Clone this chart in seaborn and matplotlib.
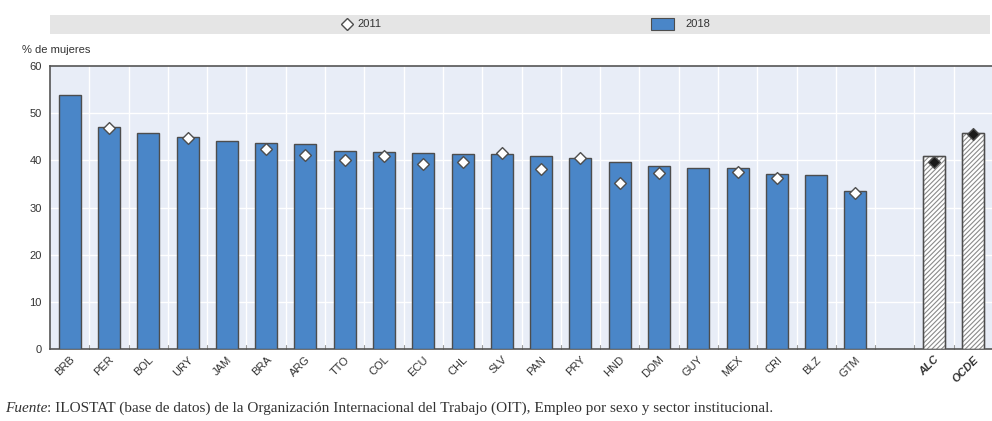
import numpy as np
import pandas as pd
import matplotlib
matplotlib.use("Agg")
import matplotlib.pyplot as plt
from matplotlib.patches import Rectangle
from matplotlib.lines import Line2D
import seaborn as sns

# Share of women in employment, by country
countries = ["BRB", "PER", "BOL", "URY", "JAM", "BRA", "ARG", "TTO", "COL", "ECU", "CHL",
             "SLV", "PAN", "PRY", "HND", "DOM", "GUY", "MEX", "CRI", "BLZ", "GTM"]
values_2018 = [53.8, 47.1, 45.7, 45.0, 44.2, 43.7, 43.4, 42.0, 41.8, 41.6, 41.3,
               41.3, 40.9, 40.4, 39.6, 38.8, 38.3, 38.3, 37.1, 36.8, 33.5]
values_2011 = [np.nan, 46.8, np.nan, 44.7, np.nan, 42.5, 41.1, 40.1, 41.0, 39.2, 39.6,
               41.6, 38.2, 40.6, 35.2, 37.4, np.nan, 37.6, 36.2, np.nan, 33.0]

# Regional aggregates
aggregates = ["ALC", "OCDE"]
agg_2018 = [40.9, 45.9]
agg_2011 = [39.7, 45.6]

y_ticks = [0, 10, 20, 30, 40, 50, 60]

GAP = " "
order = countries + [GAP] + aggregates
df = pd.DataFrame({
    "code": countries + aggregates,
    "v2018": values_2018 + agg_2018,
    "v2011": values_2011 + agg_2011,
    "kind": ["country"] * len(countries) + ["aggregate"] * len(aggregates),
})

sns.set_theme(style="white")
plt.rcParams["font.family"] = ["Liberation Sans", "DejaVu Sans"]
plt.rcParams["hatch.color"] = "#8a8a8a"
plt.rcParams["hatch.linewidth"] = 0.8

BLUE = "#4a86c8"
EDGE = "#4d4d4d"
BG = "#e8edf7"
TXT = "#333333"

W, H = 992, 421
fig = plt.figure(figsize=(W / 100, H / 100), dpi=100)
ax = fig.add_axes([50 / W, 1 - 349 / H, 943 / W, (349 - 66) / H])
ax.set_facecolor(BG)

bar_colors = {c: BLUE for c in countries}
bar_colors.update({c: "white" for c in aggregates})
bar_colors[GAP] = BLUE
sns.barplot(data=df, x="code", y="v2018", order=order, hue="code", hue_order=order,
            palette=bar_colors, saturation=1, width=0.56, edgecolor=EDGE, linewidth=1.0,
            legend=False, ax=ax, zorder=3)

# hatch the aggregate bars, then outline them in the regular edge colour
for patch in list(ax.patches):
    x_mid = patch.get_x() + patch.get_width() / 2
    idx = int(round(x_mid))
    if 0 <= idx < len(order) and order[idx] in aggregates:
        patch.set_hatch("///////")
        patch.set_facecolor("white")
        patch.set_edgecolor("#8a8a8a")
        ax.add_patch(Rectangle((patch.get_x(), 0), patch.get_width(), patch.get_height(),
                               fill=False, edgecolor=EDGE, linewidth=1.0, zorder=3.5))

sns.stripplot(data=df, x="code", y="v2011", order=order, hue="kind",
              hue_order=["country", "aggregate"], palette={"country": "white", "aggregate": "#1a1a1a"},
              jitter=False, marker="D", size=6, edgecolor=EDGE, linewidth=1.0,
              legend=False, ax=ax, zorder=4)

n = len(order)
ax.set_xlim(-0.5, n - 0.5)
ax.set_ylim(0, 60)
ax.set_yticks(y_ticks)
ax.set_yticklabels([str(t) for t in y_ticks], fontsize=8, color=TXT)
ax.set_xlabel("")
ax.set_ylabel("")

# grid: white lines between slots and at y ticks
for b in np.arange(0.5, n - 0.5, 1.0):
    ax.axvline(b, color="white", linewidth=1.0, zorder=1)
for t in y_ticks[1:-1]:
    ax.axhline(t, color="white", linewidth=1.0, zorder=1)

labels = [c if c != GAP else "" for c in order]
ax.set_xticks(range(n))
ax.set_xticklabels(labels, rotation=45, ha="right", rotation_mode="anchor", fontsize=8, color=TXT)
for lab in ax.get_xticklabels():
    if lab.get_text() in aggregates:
        lab.set_fontweight("bold")
        lab.set_fontstyle("italic")
ax.tick_params(axis="x", length=0, pad=4)
ax.tick_params(axis="y", length=0, pad=6)

# small upward ticks at slot boundaries
for b in np.arange(0.5, n - 0.5, 1.0):
    ax.plot([b, b], [0, 0.8], color="#999999", linewidth=0.8, zorder=2, clip_on=False)

for side in ["top", "bottom", "left"]:
    ax.spines[side].set_visible(True)
    ax.spines[side].set_color("#555555")
    ax.spines[side].set_linewidth(1.2)
ax.spines["right"].set_visible(False)

fig.text(22 / W, 1 - 50 / H, "% de mujeres", fontsize=8, color=TXT, va="center", ha="left")

# legend band with its two keys
fig.add_artist(Rectangle((50 / W, 1 - 34 / H), 940 / W, 19 / H,
                         transform=fig.transFigure, facecolor="#e5e5e5",
                         edgecolor="none", zorder=0))
fig.add_artist(Line2D([347 / W], [1 - 24 / H], transform=fig.transFigure, marker="D",
                      linestyle="none", markerfacecolor="white", markeredgecolor=EDGE,
                      markersize=6, markeredgewidth=1.0))
fig.text(357 / W, 1 - 24 / H, "2011", fontsize=8, color=TXT, va="center", ha="left")
fig.add_artist(Rectangle((651 / W, 1 - 30 / H), 23 / W, 12 / H, transform=fig.transFigure,
                         facecolor=BLUE, edgecolor=EDGE, linewidth=0.8))
fig.text(685 / W, 1 - 24 / H, "2018", fontsize=8, color=TXT, va="center", ha="left")

# source note
fig.canvas.draw()
renderer = fig.canvas.get_renderer()
serif = ["Liberation Serif", "DejaVu Serif"]
t1 = fig.text(5 / W, 1 - 408 / H, "Fuente", fontsize=11, fontstyle="italic",
              family=serif, color=TXT, va="center")
bb = t1.get_window_extent(renderer)
fig.text(bb.x1 / fig.bbox.width, 1 - 408 / H,
         ": ILOSTAT (base de datos) de la Organización Internacional del Trabajo (OIT), "
         "Empleo por sexo y sector institucional.",
         fontsize=11, family=serif, color=TXT, va="center")

fig.savefig("out.png", dpi=100)
